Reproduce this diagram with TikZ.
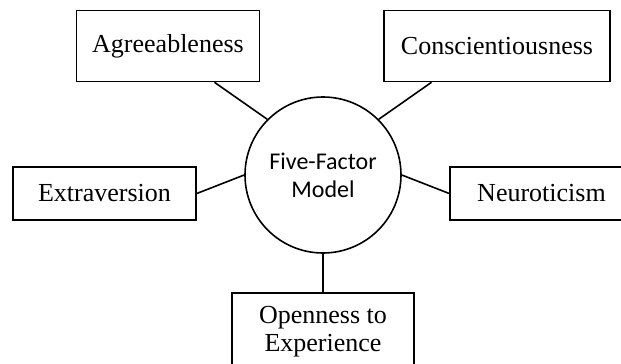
\documentclass[tikz,border=0pt]{standalone}
\usepackage{fontspec}
\setmainfont{Liberation Serif}
\newfontfamily\calibrifont{Carlito}

\begin{document}
\begin{tikzpicture}[x=1pt, y=-1pt, line width=1.6pt,
		trait/.style={draw, fill=white, inner sep=0pt, align=center, font=\fontsize{26}{28}\selectfont},
		hub/.style={circle, draw, inner sep=0pt, align=center, font=\calibrifont\fontsize{24}{28}\selectfont}]
			% Frame
			\def\boxtoph{71}
			\def\boxmidh{53}
			\def\hubsize{156}
			\clip (0,0) rectangle (621,364);

			% Centre
			\node[hub, minimum size=\hubsize pt] (fm) at (323,175) {Five-Factor\\Model};

			% Traits
			\node[trait, minimum width=183pt, minimum height=\boxtoph pt] (agr) at (168,46) {Agreeableness};
			\node[trait, minimum width=226pt, minimum height=\boxtoph pt] (con) at (497,46) {Conscientiousness};
			\node[trait, minimum width=183pt, minimum height=\boxmidh pt] (ext) at (104.5,193.5) {Extraversion};
			\node[trait, minimum width=183pt, minimum height=\boxmidh pt] (neu) at (541.5,193.5) {Neuroticism};
			\node[trait, minimum width=182pt, minimum height=78pt] (ope) at (323,332) {Openness to\\Experience};

			\draw (fm.135) -- (agr.-38);
			\draw (fm.45) -- (con.-151);
			\draw (fm.west) -- (ext.east);
			\draw (fm.east) -- (neu.west);
			\draw (fm.south) -- (ope.north);
		\end{tikzpicture}
\end{document}
